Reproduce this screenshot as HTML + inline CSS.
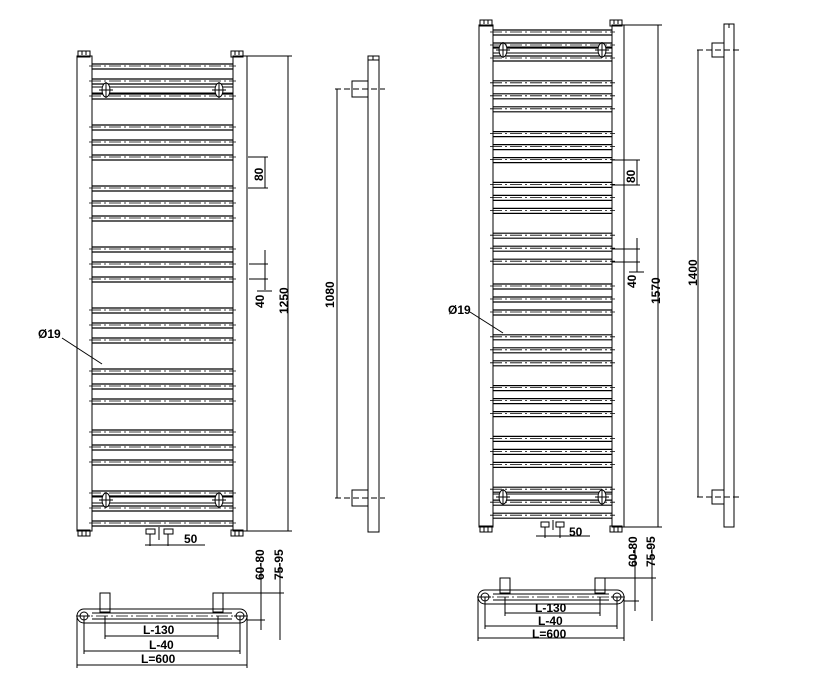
<!DOCTYPE html>
<html><head><meta charset="utf-8"><style>
html,body{margin:0;padding:0;background:#fff}
svg{display:block}
text{font-family:"Liberation Sans",sans-serif;font-weight:bold;font-size:12px;fill:#000}
</style></head><body>
<svg id="s" width="830" height="700" viewBox="0 0 830 700" xmlns="http://www.w3.org/2000/svg" stroke="#000" fill="none" stroke-width="1">
<g id="g"></g>
<g stroke="none">
<text x="38" y="338">Ø19</text>
<text x="448" y="314">Ø19</text>
<text transform="translate(263,181) rotate(-90)">80</text>
<text transform="translate(264,308) rotate(-90)">40</text>
<text transform="translate(288,314) rotate(-90)">1250</text>
<text transform="translate(334,308) rotate(-90)">1080</text>
<text transform="translate(635,183) rotate(-90)">80</text>
<text transform="translate(636,288) rotate(-90)">40</text>
<text transform="translate(660,304) rotate(-90)">1570</text>
<text transform="translate(697,286) rotate(-90)">1400</text>
<text x="184" y="543">50</text>
<text x="569" y="536">50</text>
<text transform="translate(264,580) rotate(-90)">60-80</text>
<text transform="translate(283,580) rotate(-90)">75-95</text>
<text transform="translate(637,567) rotate(-90)">60-80</text>
<text transform="translate(655,567) rotate(-90)">75-95</text>
<text x="143" y="634">L-130</text>
<text x="149" y="649">L-40</text>
<text x="141" y="663">L=600</text>
<text x="535" y="612">L-130</text>
<text x="538" y="625">L-40</text>
<text x="532" y="638">L=600</text>
</g>
</svg>
<script>
var g=document.getElementById('g'),h='';
function L(x1,y1,x2,y2,d,w){h+='<line x1="'+x1+'" y1="'+y1+'" x2="'+x2+'" y2="'+y2+'"'+(d?' stroke-dasharray="'+d+'"':'')+(w?' stroke-width="'+w+'"':'')+'/>';}
function R(x,y,w,hh){h+='<rect x="'+x+'" y="'+y+'" width="'+w+'" height="'+hh+'"/>';}
function C(x,y,r){h+='<circle cx="'+x+'" cy="'+y+'" r="'+r+'"/>';}
var DD='12,3,2,3';
function rad(o){
 R(o.l1,o.top,o.l2-o.l1,o.bot-o.top);R(o.r1,o.top,o.r2-o.r1,o.bot-o.top);
 [o.l1+1,o.r1-2].forEach(function(x){R(x,o.top-5,12,6);L(x+4,o.top-5,x+4,o.top-1);L(x+8,o.top-5,x+8,o.top-1);
  R(x,o.bot-1,12,6);L(x+4,o.bot,x+4,o.bot+5);L(x+8,o.bot,x+8,o.bot+5);});
 for(var k=0;k<o.n;k++){var y0=o.s+o.p*k;
  for(var j=0;j<3;j++){var y=y0+j*o.sp;
   L(o.l2,y-2,o.r1,y-2,0,1.2);L(o.l2,y+3,o.r1,y+3,0,1.2);L(o.l2-3,y,o.r1+3,y,DD,0.8);}
 }
 [o.h1,o.h2].forEach(function(hy){L(o.l2,hy-3,o.r1,hy-3);L(o.l2,hy+3,o.r1,hy+3);
  [o.hx1,o.hx2].forEach(function(hx){h+='<ellipse cx="'+hx+'" cy="'+hy+'" rx="4" ry="7" fill="#fff"/>';L(hx-7,hy,hx+7,hy);L(hx,hy-8,hx,hy+8);});});
}
rad({l1:77,l2:92,r1:233,r2:247,top:56,bot:531,n:8,s:66,p:61,sp:15,h1:90,h2:500,hx1:106,hx2:219});
rad({l1:479,l2:493,r1:612,r2:624,top:25,bot:527,n:10,s:32,p:50.8,sp:13,h1:50,h2:497,hx1:503,hx2:602});
L(247,56,292,56);L(247,531,292,531);L(288,56,288,531);
L(624,25,662,25);L(624,527,662,527);L(658,25,658,527);
L(248,157,268,157);L(248,188,268,188);L(265,157,265,188);
L(249,264,268,264);L(249,279,268,279);L(265,250,265,290);L(257,291,272,291);
L(612,160,640,160);L(612,185,640,185);L(637,160,637,185);
L(612,249,640,249);L(612,262,640,262);L(637,238,637,272);L(629,272,644,272);
R(368,56,11,476);L(368,60,379,60);L(373,56,373,60);
R(352,81,16,16);L(335,89,385,89,'6,3');R(352,490,16,16);L(335,498,385,498,'6,3');L(337,89,337,498);
R(724,24,10,503);L(729,24,729,28);
R(712,43,12,14);L(697,50,740,50,'6,3');R(712,490,12,14);L(697,497,740,497,'6,3');L(698,50,698,497);
[150,168].forEach(function(x){R(x-4,529,9,5);L(x,534,x,546);});L(145,545,205,545);L(159,527,159,540);
[545,560].forEach(function(x){R(x-4,522,8,5);L(x,527,x,538);});L(536,536,590,536);L(553,520,553,530);
function bv(o){
 h+='<path d="M'+o.a+' '+(o.y-7)+' L'+o.b+' '+(o.y-7)+' A7 7 0 0 1 '+o.b+' '+(o.y+7)+' L'+o.a+' '+(o.y+7)+' A7 7 0 0 1 '+o.a+' '+(o.y-7)+'Z"/>';
 L(o.a+8,o.y-3,o.b-8,o.y-3);L(o.a+8,o.y+3,o.b-8,o.y+3);L(o.a-8,o.y,o.b+8,o.y,DD,0.8);
 C(o.a,o.y,4);C(o.b,o.y,4);L(o.a-6,o.y,o.a+6,o.y);L(o.b-6,o.y,o.b+6,o.y);
 R(o.v1-5,o.vt,10,o.y-4-o.vt);R(o.v2-5,o.vt,10,o.y-4-o.vt);
 L(o.v1,o.y,o.v1,o.d1+3);L(o.v2,o.y,o.v2,o.d1+3);L(o.v1,o.d1,o.v2,o.d1);
 L(o.a,o.y,o.a,o.d2+3);L(o.b,o.y,o.b,o.d2+3);L(o.a,o.d2,o.b,o.d2);
 L(o.a-7,o.y,o.a-7,o.d3+3);L(o.b+7,o.y,o.b+7,o.d3+3);L(o.a-7,o.d3,o.b+7,o.d3);
 L(o.v2+5,o.vt,o.x2+4,o.vt);L(o.b+7,o.y+4,o.x1+4,o.y+4);L(o.x1,o.vt-30,o.x1,o.y+14);L(o.x2,o.vt-30,o.x2,o.y+24);
}
bv({a:84,b:240,y:616,v1:105,v2:218,vt:593,d1:636,d2:651,d3:665,x1:261,x2:280});
bv({a:485,b:617,y:597,v1:505,v2:600,vt:578,d1:613,d2:626,d3:638,x1:635,x2:652});
L(62,338,102,364);L(470,312,503,333);
g.innerHTML=h;
</script>
</body></html>
